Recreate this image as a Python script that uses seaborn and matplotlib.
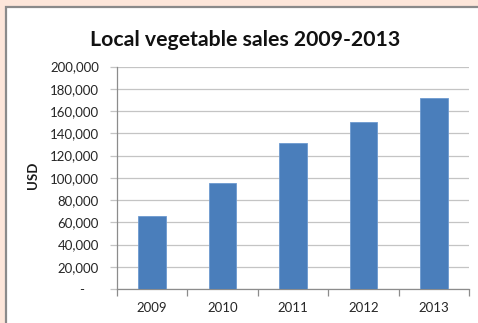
import matplotlib
matplotlib.use("Agg")
import matplotlib.pyplot as plt
from matplotlib.patches import Rectangle
from matplotlib.ticker import FuncFormatter, FixedLocator
import seaborn as sns
import pandas as pd

# Annual sales figures
years = ["2009", "2010", "2011", "2012", "2013"]
sales_usd = [66000, 95500, 131000, 150500, 171500]
y_ticks = [0, 20000, 40000, 60000, 80000, 100000, 120000, 140000, 160000, 180000, 200000]

title = "Local vegetable sales 2009-2013"
y_label = "USD"

df = pd.DataFrame({"year": years, "sales": sales_usd})

sns.set_theme(style="white")
plt.rcParams["font.family"] = ["Lato", "DejaVu Sans"]

W, H = 478, 323
fig = plt.figure(figsize=(W / 100, H / 100), dpi=100)
fig.patch.set_facecolor("#fde6da")

# white chart panel with a grey frame, running off the right and bottom edges
fig.patches.append(Rectangle((6 / W, -0.1), 1.2, 1.1 - 7 / H, transform=fig.transFigure,
                             facecolor="white", edgecolor="#8a8a8a", linewidth=1.6, zorder=-5))

ax = fig.add_axes([117 / W, 1 - 289 / H, (469 - 117) / W, (289 - 66.5) / H])
ax.set_facecolor("none")
ax.set_zorder(2)

sns.barplot(data=df, x="year", y="sales", color="#4a7ebb", width=0.39,
            saturation=1, edgecolor="#6d9ad0", linewidth=0.6, ax=ax, zorder=3)

ax.set_ylim(0, 200000)
ax.set_xlim(-0.5, len(years) - 0.5)
ax.yaxis.set_major_locator(FixedLocator(y_ticks))
ax.yaxis.set_major_formatter(FuncFormatter(lambda v, p: "-    " if v == 0 else f"{int(v):,}"))
ax.grid(axis="y", color="#c4c4c4", linewidth=0.9, zorder=0)
ax.set_axisbelow(True)

for s in ["top", "right"]:
    ax.spines[s].set_visible(False)
for s in ["left", "bottom"]:
    ax.spines[s].set_color("#8c8c8c")
    ax.spines[s].set_linewidth(0.9)

ax.tick_params(axis="y", which="major", length=5, width=0.9, color="#c4c4c4",
               labelsize=9.5, labelcolor="#262626", pad=8, left=True)
ax.tick_params(axis="x", which="major", length=0, labelsize=9.5, labelcolor="#262626", pad=9)
ax.set_xticks([i - 0.5 for i in range(len(years) + 1)], minor=True)
ax.tick_params(axis="x", which="minor", length=5, width=0.9, color="#8c8c8c", bottom=True)

ax.set_xlabel("")
ax.set_ylabel("")

fig.text(33 / W, 1 - 175 / H, y_label, rotation=90, ha="center", va="center",
         fontsize=9.5, fontweight="bold", color="#1a1a1a")
fig.text(245 / W, 1 - 40 / H, title, ha="center", va="center",
         fontsize=15.3, fontweight="bold", color="#111111")

fig.savefig("out.png", dpi=100, facecolor=fig.get_facecolor())
